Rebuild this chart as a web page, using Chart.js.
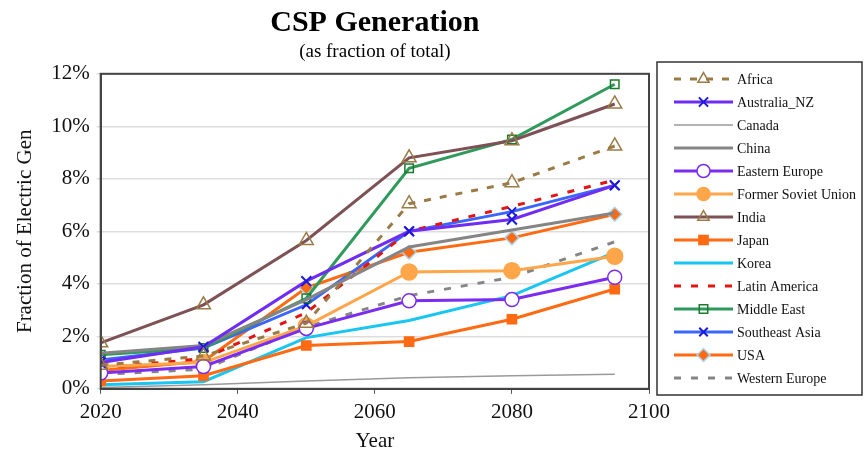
<!DOCTYPE html>
<html>
<head>
<meta charset="utf-8">
<script src="https://cdn.jsdelivr.net/npm/chart.js@4.4.1/dist/chart.umd.min.js"></script>
<style>
  html, body { margin: 0; padding: 0; background: #fff; }
  #wrap { width: 866px; height: 453px; position: relative; }
</style>
</head>
<body>
<div id="wrap"><canvas id="cspChart"></canvas></div>
<script>
// years of the model runs
const years = [2020, 2035, 2050, 2065, 2080, 2095];
const xTicks = [2020, 2040, 2060, 2080, 2100];

// CSP share of electric generation, percent
const africa        = [0.9, 1.25, 2.5, 7.05, 7.85, 9.25];
const australiaNZ   = [1.0, 1.6, 4.1, 6.0, 6.45, 7.75];
const canada        = [0.05, 0.15, 0.3, 0.42, 0.5, 0.55];
const china         = [1.35, 1.65, 3.4, 5.4, 6.05, 6.7];
const easternEurope = [0.6, 0.85, 2.3, 3.35, 3.4, 4.25];
const formerSoviet  = [0.85, 1.0, 2.4, 4.45, 4.5, 5.05];
const india         = [1.75, 3.2, 5.65, 8.8, 9.45, 10.85];
const japan         = [0.3, 0.5, 1.65, 1.8, 2.65, 3.8];
const korea         = [0.15, 0.27, 1.95, 2.6, 3.55, 5.2];
const latinAmerica  = [0.8, 1.15, 2.9, 6.0, 6.95, 7.95];
const middleEast    = [1.3, 1.55, 3.45, 8.4, 9.5, 11.6];
const southeastAsia = [1.1, 1.55, 3.2, 6.0, 6.75, 7.75];
const usa           = [0.7, 1.05, 3.85, 5.2, 5.75, 6.65];
const westernEurope = [0.55, 0.75, 2.35, 3.55, 4.25, 5.6];

const SERIF = '"Liberation Serif", "DejaVu Serif", serif';

function pts(vals) {
    return vals.map((v, i) => ({ x: years[i], y: v }));
}

function series(label, vals, opts) {
    return Object.assign({
        label: label,
        data: pts(vals),
        borderWidth: 3,
        pointRadius: 0,
        pointBorderWidth: 1.5,
        tension: 0,
        fill: false
    }, opts);
}

const datasets = [
    series('Africa', africa, { borderColor: '#9a7b45', borderDash: [7, 9], pointStyle: 'triangle', pointRadius: 8, pointBackgroundColor: 'rgba(255,255,255,0)', pointBorderColor: '#9a7b45' }),
    series('Australia_NZ', australiaNZ, { borderColor: '#6f2cf2', pointStyle: 'crossRot', pointRadius: 7, pointBorderColor: '#1a1ad8', pointBorderWidth: 2 }),
    series('Canada', canada, { borderColor: '#9a9a9a', borderWidth: 1.5 }),
    series('China', china, { borderColor: '#858585' }),
    series('Eastern Europe', easternEurope, { borderColor: '#7a2cf0', pointStyle: 'circle', pointRadius: 7, pointBackgroundColor: '#ffffff', pointBorderColor: '#7a2cf0' }),
    series('Former Soviet Union', formerSoviet, { borderColor: '#ffa64a', pointStyle: 'circle', pointRadius: 8, pointBackgroundColor: '#ffa64a', pointBorderColor: '#ffa64a' }),
    series('India', india, { borderColor: '#7d5155', pointStyle: 'triangle', pointRadius: 8, pointBackgroundColor: 'rgba(255,255,255,0)', pointBorderColor: '#9a7b45' }),
    series('Japan', japan, { borderColor: '#ff6a12', pointStyle: 'rect', pointRadius: 6.5, pointBackgroundColor: '#ff6a12', pointBorderColor: '#ff6a12' }),
    series('Korea', korea, { borderColor: '#19c6f2' }),
    series('Latin America', latinAmerica, { borderColor: '#e31414', borderDash: [7, 10] }),
    series('Middle East', middleEast, { borderColor: '#2f9a5c', pointStyle: 'rect', pointRadius: 6, pointBackgroundColor: 'rgba(255,255,255,0)', pointBorderColor: '#1b7a2c' }),
    series('Southeast Asia', southeastAsia, { borderColor: '#3a66ff', pointStyle: 'crossRot', pointRadius: 6, pointBorderColor: '#1a1ad8', pointBorderWidth: 2 }),
    series('USA', usa, { borderColor: '#ff6a12', pointStyle: 'rectRot', pointRadius: 7, pointBackgroundColor: '#ff6a12', pointBorderColor: '#a9d6f2' }),
    series('Western Europe', westernEurope, { borderColor: '#858585', borderDash: [7, 10] })
];

// frame round the plot area
const frame = {
    id: 'frame',
    afterDraw(chart) {
        const { ctx, chartArea: a } = chart;
        ctx.save();
        ctx.strokeStyle = '#444';
        ctx.lineWidth = 2;
        ctx.strokeRect(a.left, a.top, a.right - a.left, a.bottom - a.top);
        ctx.restore();
    }
};

// legend drawn to the right, line sample plus marker
const sideLegend = {
    id: 'sideLegend',
    afterDraw(chart) {
        const ctx = chart.ctx;
        const box = { x: 657, y: 62, w: 205, h: 333 };
        ctx.save();
        ctx.strokeStyle = '#333';
        ctx.lineWidth = 1.5;
        ctx.strokeRect(box.x, box.y, box.w, box.h);
        const step = 23.0;
        chart.data.datasets.forEach((ds, i) => {
            const y = box.y + 17 + i * step;
            const x0 = box.x + 17, x1 = box.x + 76;
            ctx.beginPath();
            ctx.setLineDash(ds.borderDash || []);
            ctx.strokeStyle = ds.borderColor;
            ctx.lineWidth = ds.borderWidth;
            ctx.moveTo(x0, y);
            ctx.lineTo(x1, y);
            ctx.stroke();
            ctx.setLineDash([]);
            if (ds.pointRadius > 0) {
                ctx.fillStyle = ds.pointBackgroundColor || ds.borderColor;
                ctx.strokeStyle = ds.pointBorderColor || ds.borderColor;
                ctx.lineWidth = ds.pointBorderWidth;
                Chart.helpers.drawPoint(ctx, {
                    pointStyle: ds.pointStyle,
                    radius: Math.min(ds.pointRadius, 6.5),
                    rotation: 0,
                    borderWidth: ds.pointBorderWidth
                }, (x0 + x1) / 2, y);
            }
            ctx.fillStyle = '#111';
            ctx.font = '14px ' + SERIF;
            ctx.textAlign = 'left';
            ctx.textBaseline = 'middle';
            ctx.fillText(ds.label, x1 + 4, y + 1);
        });
        ctx.restore();
    }
};

new Chart(document.getElementById('cspChart'), {
    type: 'line',
    data: { datasets: datasets },
    options: {
        responsive: true,
        maintainAspectRatio: false,
        animation: false,
        layout: { padding: { top: 5, right: 217, left: 9, bottom: 1 } },
        plugins: {
            legend: { display: false },
            tooltip: { enabled: false },
            title: {
                display: true,
                text: 'CSP Generation',
                fullSize: false,
                color: '#000',
                font: { family: SERIF, size: 30, weight: 'bold' },
                padding: { top: 0, bottom: 0 }
            },
            subtitle: {
                display: true,
                text: '(as fraction of total)',
                fullSize: false,
                color: '#000',
                font: { family: SERIF, size: 19 },
                padding: { top: 0, bottom: 10 }
            }
        },
        scales: {
            x: {
                type: 'linear',
                min: 2020,
                max: 2100,
                afterBuildTicks: axis => { axis.ticks = xTicks.map(v => ({ value: v })); },
                grid: { display: true, drawOnChartArea: false, drawTicks: true, tickLength: 5, tickColor: '#555', tickWidth: 1 },
                border: { color: '#444', width: 2 },
                ticks: { color: '#111', font: { family: SERIF, size: 21 }, padding: 6, callback: v => String(v) },
                title: { display: true, text: 'Year', color: '#111', font: { family: SERIF, size: 21, lineHeight: 1 }, padding: { top: 0, bottom: 0 } }
            },
            y: {
                min: 0,
                max: 12,
                ticks: { stepSize: 2, color: '#111', font: { family: SERIF, size: 21 }, padding: 7, callback: v => v + '%' },
                grid: { color: '#dddddd', lineWidth: 1.5, drawTicks: true, tickLength: 4 },
                border: { color: '#444', width: 2 },
                title: { display: true, text: 'Fraction of Electric Gen', color: '#111', font: { family: SERIF, size: 21 }, padding: { bottom: 6 } }
            }
        }
    },
    plugins: [frame, sideLegend]
});
</script>
</body>
</html>
